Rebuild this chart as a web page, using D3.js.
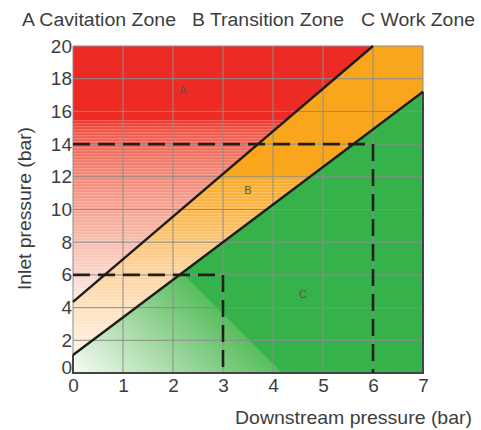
<!DOCTYPE html>
<html lang="en">
<head>
<meta charset="utf-8">
<title>Cavitation zones</title>
<script src="https://cdn.jsdelivr.net/npm/d3@7"></script>
<style>
  body { margin: 0; background: #fff; }
  text { font-family: "Liberation Sans", Arial, sans-serif; fill: #3d3d3d; }
</style>
</head>
<body>
<div id="chart"></div>
<script>
// zone legend along the top
var zoneNames = ["A Cavitation Zone", "B Transition Zone", "C Work Zone"];
var zoneLetters = ["A", "B", "C"];
var letterPos = [[2.2, 17.3], [3.5, 11.2], [4.6, 4.85]];   // where the letters sit, in bar

// boundary lines (downstream bar, inlet bar)
var upperLine = [[0, 4.35], [6.0, 20]];
var lowerLine = [[0, 1.1], [7, 17.2]];

// the two worked examples (dashed)
var example1 = [[0, 14], [6, 14], [6, 0]];
var example2 = [[0, 6], [3, 6], [3, 0]];

var xTicks = [0, 1, 2, 3, 4, 5, 6, 7];
var yTicks = [0, 2, 4, 6, 8, 10, 12, 14, 16, 18, 20];

var W = 481, H = 430;
var x = d3.scaleLinear().domain([0, 7]).range([73, 423]);
var y = d3.scaleLinear().domain([0, 20]).range([373, 46]);

var svg = d3.select("#chart").append("svg").attr("width", W).attr("height", H);
var defs = svg.append("defs");

// vertical fade for A (red -> almost white)
var gA = defs.append("linearGradient").attr("id", "gradA")
  .attr("gradientUnits", "userSpaceOnUse")
  .attr("x1", 0).attr("x2", 0).attr("y1", y(15.6)).attr("y2", y(4));
[[0, "#ee2a24"], [0.08, "#f05849"], [0.25, "#f27d6b"], [0.5, "#f6a693"], [0.75, "#fac9bc"], [1, "#fef1ec"]]
  .forEach(function (s) { gA.append("stop").attr("offset", s[0]).attr("stop-color", s[1]); });

// vertical fade for B (orange -> almost white)
var gB = defs.append("linearGradient").attr("id", "gradB")
  .attr("gradientUnits", "userSpaceOnUse")
  .attr("x1", 0).attr("x2", 0).attr("y1", y(12.3)).attr("y2", y(0.5));
[[0, "#f9a61c"], [0.2, "#fbb548"], [0.5, "#fdd099"], [0.8, "#fee8cd"], [1, "#fff7ef"]]
  .forEach(function (s) { gB.append("stop").attr("offset", s[0]).attr("stop-color", s[1]); });

// diagonal fade for C near the origin
var gC = defs.append("linearGradient").attr("id", "gradC")
  .attr("gradientUnits", "userSpaceOnUse")
  .attr("x1", x(0)).attr("y1", y(0))
  .attr("x2", x(0) + 106).attr("y2", y(0) - 106);
[[0, "#f7fbf6"], [0.5, "#a6daa5"], [0.985, "#58be5e"], [0.99, "#35b34a"], [1, "#35b34a"]]
  .forEach(function (s) { gC.append("stop").attr("offset", s[0]).attr("stop-color", s[1]); });

// banding stripes
var pat = defs.append("pattern").attr("id", "stripes")
  .attr("patternUnits", "userSpaceOnUse").attr("width", 8).attr("height", 3);
pat.append("rect").attr("width", 8).attr("height", 1.3).attr("fill", "#fff").attr("opacity", 0.22);

defs.append("clipPath").attr("id", "clipA").append("rect")
  .attr("x", x(0)).attr("width", x(7) - x(0)).attr("y", y(15.5)).attr("height", y(0) - y(15.5));
defs.append("clipPath").attr("id", "clipB").append("rect")
  .attr("x", x(0)).attr("width", x(7) - x(0)).attr("y", y(12)).attr("height", y(0) - y(12));

var line = d3.line().x(function (d) { return x(d[0]); }).y(function (d) { return y(d[1]); });

var polyA = [[0, 20], upperLine[1], upperLine[0]];
var polyB = [upperLine[0], upperLine[1], [7, 20], lowerLine[1], lowerLine[0]];
var polyC = [[0, 0], lowerLine[0], lowerLine[1], [7, 0]];

svg.append("path").attr("d", line(polyA) + "Z").attr("fill", "url(#gradA)");
svg.append("path").attr("d", line(polyA) + "Z").attr("fill", "url(#stripes)").attr("clip-path", "url(#clipA)");
svg.append("path").attr("d", line(polyB) + "Z").attr("fill", "url(#gradB)");
svg.append("path").attr("d", line(polyB) + "Z").attr("fill", "url(#stripes)").attr("clip-path", "url(#clipB)");
svg.append("path").attr("d", line(polyC) + "Z").attr("fill", "url(#gradC)");

// grid
var grid = svg.append("g").attr("stroke", "#8c8c8c").attr("stroke-width", 1);
grid.selectAll(".vx").data(xTicks).enter().append("line")
  .attr("x1", function (d) { return x(d); }).attr("x2", function (d) { return x(d); })
  .attr("y1", y(0)).attr("y2", y(20));
grid.selectAll(".hy").data(yTicks).enter().append("line")
  .attr("y1", function (d) { return y(d); }).attr("y2", function (d) { return y(d); })
  .attr("x1", x(0)).attr("x2", x(7));

// darker outline round the work zone
svg.append("path")
  .attr("d", line([lowerLine[0], [0, 0], [7, 0], lowerLine[1]]))
  .attr("fill", "none").attr("stroke", "#444").attr("stroke-width", 2);

// zone letters
svg.selectAll(".zl").data(zoneLetters).enter().append("text")
  .attr("x", function (d, i) { return x(letterPos[i][0]); })
  .attr("y", function (d, i) { return y(letterPos[i][1]); })
  .attr("text-anchor", "middle").attr("dy", "0.35em")
  .style("font-size", "11px").style("fill", "#555")
  .text(function (d) { return d; });

// dashed examples
[example1, example2].forEach(function (pts) {
  svg.append("path").attr("d", line(pts)).attr("fill", "none")
    .attr("stroke", "#231f20").attr("stroke-width", 2.6).attr("stroke-dasharray", "17,8");
});

// boundaries
[upperLine, lowerLine].forEach(function (pts) {
  svg.append("path").attr("d", line(pts)).attr("fill", "none")
    .attr("stroke", "#1d1d1b").attr("stroke-width", 2.4);
});

// axes (labels only)
var xAxis = svg.append("g").attr("transform", "translate(0," + y(0) + ")")
  .call(d3.axisBottom(x).tickValues(xTicks).tickSize(0).tickPadding(6).tickFormat(d3.format("d")));
var yAxis = svg.append("g").attr("transform", "translate(" + x(0) + ",0)")
  .call(d3.axisLeft(y).tickValues(yTicks).tickSize(0).tickPadding(1).tickFormat(d3.format("d")));
[xAxis, yAxis].forEach(function (g) {
  g.select(".domain").remove();
  g.selectAll("text").style("font-size", "19px").style("fill", "#3d3d3d")
    .style("font-family", "'Liberation Sans', Arial, sans-serif");
});
// the y "0" sits a little higher in the source, clear of the x "0"
yAxis.selectAll(".tick").filter(function (d) { return d === 0; })
  .select("text").attr("dy", "0.05em");

// axis titles (the source type is set wide, so stretch to its measured lengths)
svg.append("text").attr("x", 235).attr("y", 424)
  .attr("textLength", 237).attr("lengthAdjust", "spacingAndGlyphs")
  .style("font-size", "18.5px").text("Downstream pressure (bar)");
svg.append("text").attr("transform", "translate(31,290) rotate(-90)")
  .attr("textLength", 163).attr("lengthAdjust", "spacingAndGlyphs")
  .style("font-size", "18.5px").text("Inlet pressure (bar)");

// zone legend
var legendX = [22, 192, 361];
var legendLen = [154, 152, 114];
svg.selectAll(".zn").data(zoneNames).enter().append("text")
  .attr("x", function (d, i) { return legendX[i]; }).attr("y", 26)
  .attr("textLength", function (d, i) { return legendLen[i]; })
  .attr("lengthAdjust", "spacingAndGlyphs")
  .style("font-size", "18px")
  .text(function (d) { return d; });
</script>
</body>
</html>
